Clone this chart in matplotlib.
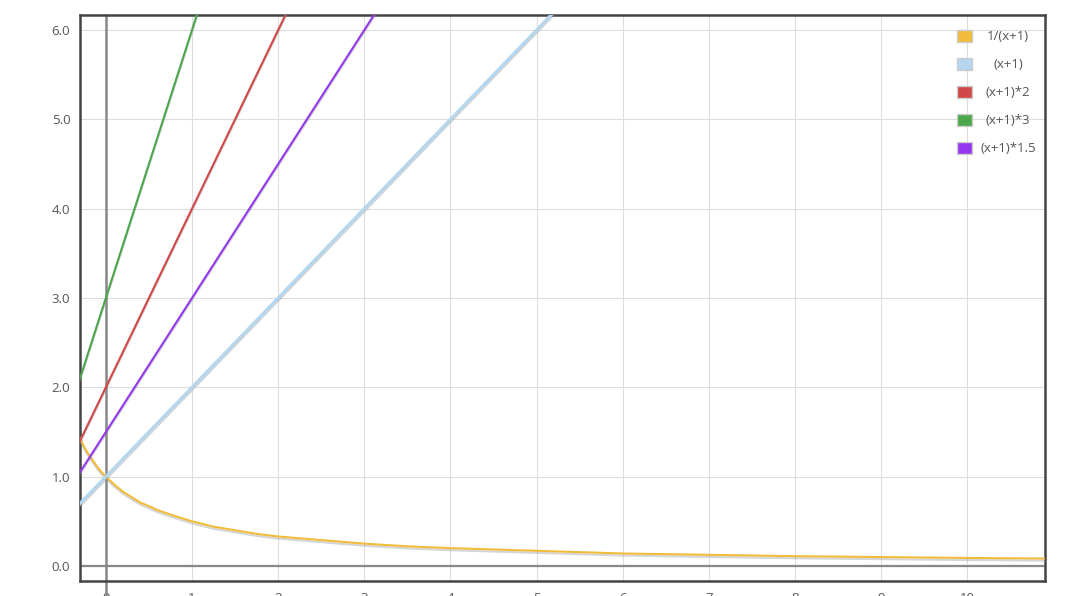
import matplotlib.pyplot as plt
import matplotlib.patheffects as pe
from matplotlib.patches import Rectangle

# readings of the 1/(x+1) curve
x_curve = [-0.3, -0.25, -0.2, -0.15, -0.1, -0.05, 0.0, 0.1, 0.2, 0.3, 0.4, 0.5, 0.6,
           0.8, 1.0, 1.25, 1.5, 1.75, 2.0, 2.5, 3.0, 3.5, 4.0, 5.0, 6.0, 7.0, 8.0,
           9.0, 10.0, 11.0]
inv = [1.43, 1.33, 1.25, 1.18, 1.11, 1.05, 1.0, 0.91, 0.83, 0.77, 0.71, 0.67, 0.625,
       0.56, 0.5, 0.44, 0.4, 0.36, 0.33, 0.29, 0.25, 0.22, 0.2, 0.17, 0.14, 0.125, 0.11,
       0.1, 0.09, 0.083]

# readings of the straight lines
x_line = [-0.3, 0, 1, 2, 3, 4, 5, 6, 7, 8, 9, 10, 11]
lin = [0.7, 1.0, 2.0, 3.0, 4.0, 5.0, 6.0, 7.0, 8.0, 9.0, 10.0, 11.0, 12.0]
lin2 = [1.4, 2.0, 4.0, 6.0, 8.0, 10.0, 12.0, 14.0, 16.0, 18.0, 20.0, 22.0, 24.0]
lin3 = [2.1, 3.0, 6.0, 9.0, 12.0, 15.0, 18.0, 21.0, 24.0, 27.0, 30.0, 33.0, 36.0]
lin15 = [1.05, 1.5, 3.0, 4.5, 6.0, 7.5, 9.0, 10.5, 12.0, 13.5, 15.0, 16.5, 18.0]

labels = ["1/(x+1)", "(x+1)", "(x+1)*2", "(x+1)*3", "(x+1)*1.5"]
colors = ["#F0BC3A", "#B5D6EF", "#D04848", "#4CA64C", "#9338EE"]
xs_list = [x_curve, x_line, x_line, x_line, x_line]
series = [inv, lin, lin2, lin3, lin15]
widths = [1.5, 2.3, 1.5, 1.5, 1.5]

x_ticks = list(range(0, 11))
y_ticks = [0, 1, 2, 3, 4, 5, 6]

plt.rcParams['font.family'] = ['Open Sans', 'DejaVu Sans']

fig = plt.figure(figsize=(10.79, 5.96), dpi=100)
ax = fig.add_axes([80 / 1079, 15 / 596, 965 / 1079, 566 / 596])

ax.set_xlim(-0.3, 10.9)
ax.set_ylim(-0.168, 6.168)
ax.set_xticks(x_ticks)
ax.set_yticks(y_ticks)
ax.set_xticklabels([str(t) for t in x_ticks])
ax.set_yticklabels([f"{t:.1f}" for t in y_ticks])
ax.tick_params(length=0, labelsize=9.5, labelcolor="#555555")
ax.tick_params(axis="y", pad=7)
ax.tick_params(axis="x", pad=8)
ax.grid(True, color="#dddddd", linewidth=0.8)
ax.set_axisbelow(True)
for sp in ax.spines.values():
    sp.set_color("#444444")
    sp.set_linewidth(1.8)

ax.axhline(0, color="#888888", linewidth=1.6, zorder=1.5)
ax.axvline(0, ymin=-0.03, ymax=1, color="#888888", linewidth=1.8, clip_on=False, zorder=1.5)

shadow = [pe.SimpleLineShadow(offset=(0, -1.5), shadow_color="#888888", alpha=0.35), pe.Normal()]
for xs, ys, c, w in zip(xs_list, series, colors, widths):
    ax.plot(xs, ys, color=c, linewidth=w, path_effects=shadow, zorder=3)

# legend drawn by hand so the text sits centred like the original
for i, (lab, c) in enumerate(zip(labels, colors)):
    yc = 596 - (36 + 28 * i)
    fig.patches.append(Rectangle((957 / 1079, (yc - 6) / 596), 15 / 1079, 12 / 596,
                                 transform=fig.transFigure, facecolor=c,
                                 edgecolor="#cccccc", linewidth=1.0))
    fig.text(1008 / 1079, yc / 596, lab, ha="center", va="center",
             fontsize=9.5, color="#555555")

fig.savefig("out.png", dpi=100)
